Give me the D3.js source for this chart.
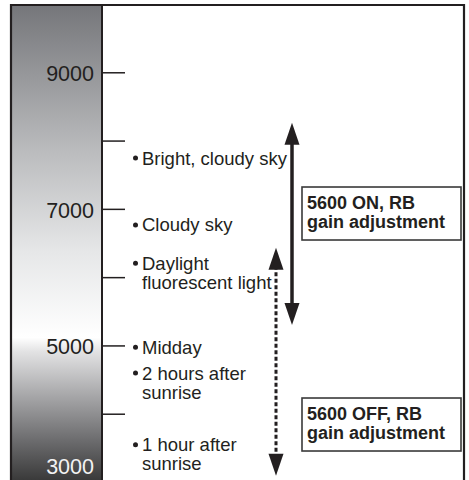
<!DOCTYPE html>
<html><head><meta charset="utf-8">
<script src="https://cdn.jsdelivr.net/npm/d3@7"></script>
<style>html,body{margin:0;padding:0;background:#fff}svg{display:block}</style>
</head><body>
<script>
// Data
const tickValues = [9000, 8000, 7000, 6000, 5000, 4000];
const tickLabels = [9000, 7000, 5000, 3000];
const sources = [
  {lines: ["Bright, cloudy sky"], k: 7730},
  {lines: ["Cloudy sky"], k: 6750},
  {lines: ["Daylight", "fluorescent light"], k: 6190},
  {lines: ["Midday"], k: 4960},
  {lines: ["2 hours after", "sunrise"], k: 4580},
  {lines: ["1 hour after", "sunrise"], k: 3530}
];
const ranges = [
  {name: "5600 ON", from: 5300, to: 8260, dashed: false},
  {name: "5600 OFF", from: 3090, to: 6430, dashed: true}
];
const boxes = [
  {lines: ["5600 ON, RB", "gain adjustment"], k: 7320},
  {lines: ["5600 OFF, RB", "gain adjustment"], k: 4230}
];

const W = 469, H = 480;
const svg = d3.select("body").append("svg").attr("width", W).attr("height", H);
const y = d3.scaleLinear().domain([3000, 10000]).range([482, 4]);
const font = "'Liberation Sans', Arial, Helvetica, sans-serif";

// gradient
const defs = svg.append("defs");
const g = defs.append("linearGradient").attr("id", "bar").attr("gradientUnits", "userSpaceOnUse")
  .attr("x1", 0).attr("x2", 0).attr("y1", 5).attr("y2", 480);
[[0, "#75767a"], [0.3, "#b9babc"], [0.52, "#e6e7e8"], [0.7, "#ffffff"], [0.73, "#e2e2e3"], [0.83, "#a2a2a4"], [0.92, "#6a6a6c"], [1, "#3a3a3a"]]
  .forEach(([o, c]) => g.append("stop").attr("offset", o).attr("stop-color", c));

// frame
const barL = 11, barR = 102, frameR = 464, frameT = 5;
svg.append("rect").attr("x", barL).attr("y", frameT).attr("width", barR - barL).attr("height", H)
  .attr("fill", "url(#bar)");
svg.append("path").attr("d", `M${barL},${H + 5}V${frameT}H${frameR}V${H + 5}`)
  .attr("fill", "none").attr("stroke", "#231f20").attr("stroke-width", 2.2);
svg.append("line").attr("x1", barR).attr("x2", barR).attr("y1", frameT).attr("y2", H + 5)
  .attr("stroke", "#231f20").attr("stroke-width", 2);

// axis ticks
const axis = d3.axisRight(y).tickValues(tickValues).tickSize(23).tickFormat("");
const ag = svg.append("g").attr("transform", `translate(${barR},0)`).call(axis);
ag.select(".domain").remove();
ag.selectAll(".tick line").attr("stroke", "#231f20").attr("stroke-width", 1.5);

// tick labels
svg.append("g").selectAll("text").data(tickLabels).join("text")
  .attr("x", 94)
  .attr("y", d => d === 3000 ? y(d) - 16 : y(d) + 1)
  .attr("dy", "0.36em")
  .attr("text-anchor", "end")
  .attr("font-family", font).attr("font-size", 21.5)
  .attr("fill", d => d === 3000 ? "#f2f2f2" : "#231f20")
  .text(d => d);

// source labels
const lg = svg.append("g").attr("font-family", font).attr("font-size", 18.5).attr("fill", "#231f20");
sources.forEach(s => {
  const base = y(s.k) + 5.5;
  lg.append("circle").attr("cx", 135.5).attr("cy", base - 6.5).attr("r", 2.5).attr("fill", "#231f20");
  const t = lg.append("text").attr("x", 142).attr("y", base);
  s.lines.forEach((line, i) => t.append("tspan").attr("x", 142).attr("y", base + i * 19).text(line));
});

// arrows
function head(x, tipY, dir) { // dir -1 up, +1 down
  const len = 22, hw = 7.5;
  return `M${x},${tipY}L${x - hw},${tipY - dir * len}L${x + hw},${tipY - dir * len}Z`;
}
const arrowX = {false: 292, true: 276};
ranges.forEach(r => {
  const x = arrowX[r.dashed];
  svg.append("line").attr("x1", x).attr("x2", x)
    .attr("y1", y(r.to) + 18).attr("y2", y(r.from) - 18)
    .attr("stroke", "#231f20").attr("stroke-width", r.dashed ? 3 : 3.5)
    .attr("stroke-dasharray", r.dashed ? "4,2.5" : null);
  svg.append("path").attr("d", head(x, y(r.to), -1)).attr("fill", "#231f20");
  svg.append("path").attr("d", head(x, y(r.from), 1)).attr("fill", "#231f20");
});

// boxes
boxes.forEach(b => {
  const top = y(b.k);
  svg.append("rect").attr("x", 302).attr("y", top).attr("width", 159).attr("height", 53)
    .attr("fill", "#fff").attr("stroke", "#3a3a3a").attr("stroke-width", 1.6);
  const t = svg.append("text").attr("x", 307).attr("y", top + 21.5)
    .attr("font-family", font).attr("font-size", 18).attr("font-weight", "bold")
    .attr("fill", "#231f20");
  b.lines.forEach((line, i) => t.append("tspan").attr("x", 307).attr("y", top + 21.5 + i * 19.5).text(line));
});
</script>
</body></html>
